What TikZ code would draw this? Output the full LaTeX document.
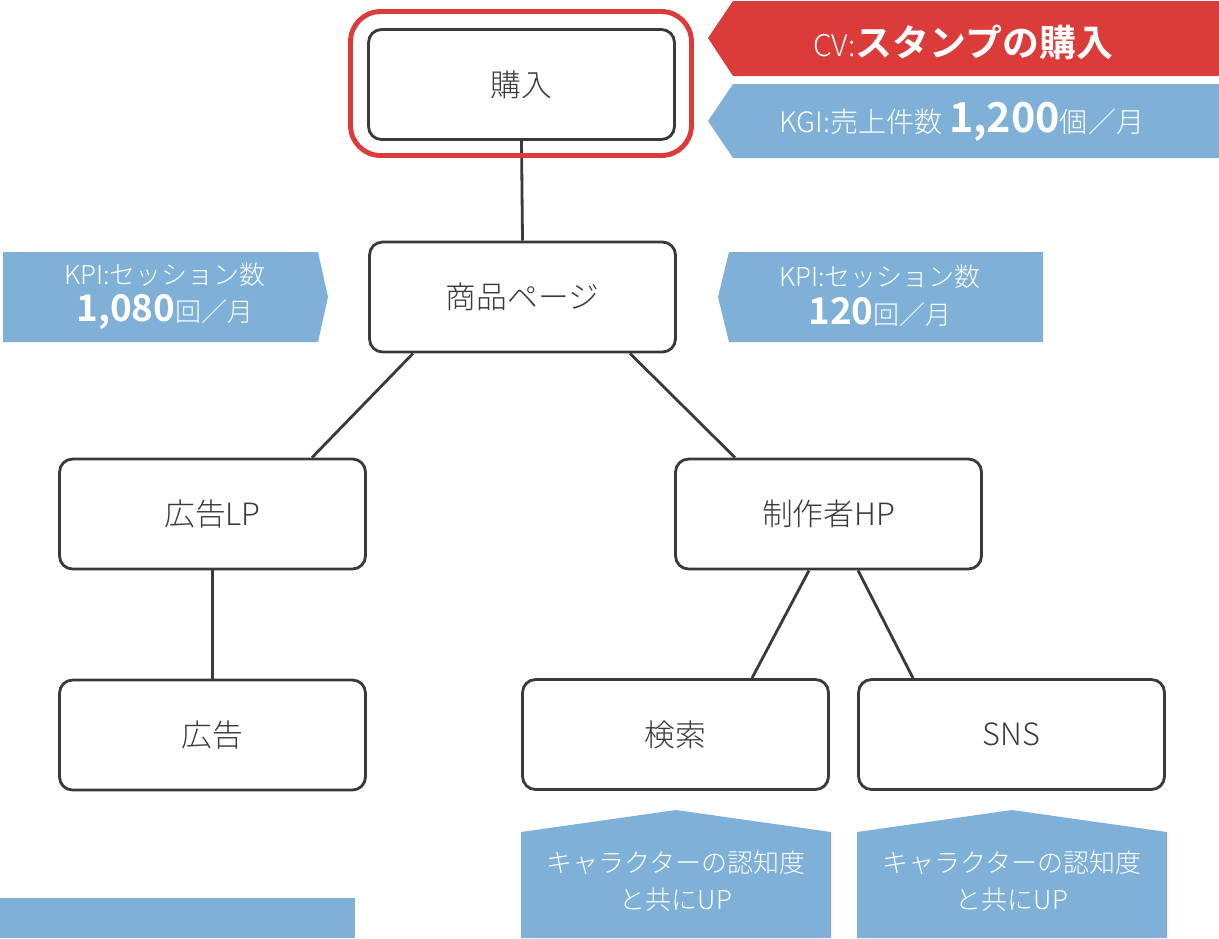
\documentclass[tikz,border=0pt]{standalone}
\usepackage{fontspec}
\setmainfont{Noto Sans CJK JP Light}[BoldFont={Noto Sans CJK JP Bold}]
\usetikzlibrary{positioning}
\definecolor{boxline}{HTML}{3A3A3A}
\definecolor{cvred}{HTML}{DB3B39}
\definecolor{kpiblue}{HTML}{7FB0D8}

\begin{document}
\begin{tikzpicture}[
x=0.02cm,
y=-0.02cm,
box/.style={
  draw=boxline,
  line width=1.6pt,
  rounded corners=0.26cm,
  minimum width=6.12cm,
  minimum height=2.2cm,
  text=boxline,
  font=\fontsize{17.5}{19}\selectfont
  },
link/.style={
  draw=boxline,
  line width=1.6pt
  },
tag/.style={
  text=white,
  align=center,
  inner sep=0pt
  }
]
\useasboundingbox (0,0) rectangle (1219,938);

% tree
\node[box] (buy) at (521.5,84.5) {購入};
\node[box] (page) at (522.5,297) {商品ページ};
\node[box] (lp) at (212.5,514) {広告LP};
\node[box] (hp) at (828.5,514) {制作者HP};
\node[box] (ad) at (212.5,735) {広告};
\node[box] (search) at (675.5,734.5) {検索};
\node[box] (sns) at (1011.5,734.5) {SNS};

\draw[link] (buy.south) -- (page.north);
\draw[link] ([xshift=-2.19cm]page.south) -- ([xshift=1.99cm]lp.north);
\draw[link] ([xshift=2.15cm]page.south) -- ([xshift=-1.87cm]hp.north);
\draw[link] (lp.south) -- (ad.north);
\draw[link] ([xshift=-0.39cm]hp.south) -- ([xshift=1.53cm]search.north);
\draw[link] ([xshift=0.59cm]hp.south) -- ([xshift=-1.97cm]sns.north);

\node[draw=cvred, line width=2.8pt, rounded corners=0.6cm,
  minimum width=6.82cm, minimum height=2.88cm] (cvframe) at (521,83.5) {};

% banners
\fill[cvred] (708,38) -- (733,1) -- (1219,1) -- (1219,76) -- (733,76) -- cycle;
\node[tag] (cv) at (963,42)
  {{\fontsize{17}{19}\selectfont CV:}{\fontsize{21}{23}\selectfont\bfseries スタンプの購入}};
\fill[kpiblue] (708,121) -- (733,84) -- (1219,84) -- (1219,158) -- (733,158) -- cycle;
\node[tag] (kgi) at (962,122)
  {{\fontsize{16}{18}\selectfont KGI:売上件数 }{\fontsize{23.5}{24}\selectfont\bfseries 1,200}{\fontsize{16}{18}\selectfont 個／月}};

\fill[kpiblue] (3,252) -- (318,252) -- (328,297) -- (318,342) -- (3,342) -- cycle;
\node[tag, font=\fontsize{14.8}{21.5}\selectfont] (kpiad) at (165,296)
  {KPI:セッション数\\{\fontsize{21}{21.5}\selectfont\bfseries 1,080}回／月};
\fill[kpiblue] (718,297) -- (729,252) -- (1043,252) -- (1043,342) -- (729,342) -- cycle;
\node[tag, font=\fontsize{14.8}{21.5}\selectfont] (kpihp) at (880,296)
  {KPI:セッション数\\{\fontsize{21}{21.5}\selectfont\bfseries 120}回／月};

\foreach \cx [count=\ci] in {676,1012}
{\fill[kpiblue] (\cx-155,832) -- (\cx,810) -- (\cx+155,832) -- (\cx+155,938) -- (\cx-155,938) -- cycle;
  \node[tag, font=\fontsize{14.8}{21.5}\selectfont] (up\ci) at (\cx,881)
    {キャラクターの認知度\\と共にUP};
}

\fill[kpiblue] (0,898) rectangle (355,938);

\end{tikzpicture}
\end{document}
